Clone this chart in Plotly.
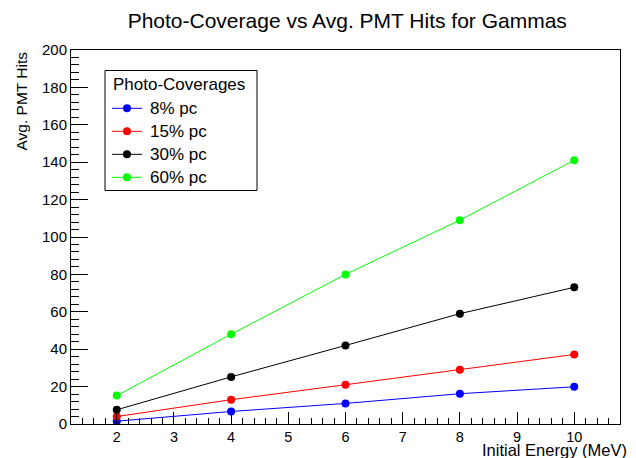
import plotly.graph_objects as go

energy = [2, 4, 6, 8, 10]
hits_8pc = [1.5, 6.7, 11.0, 16.2, 19.9]
hits_15pc = [4.0, 13.0, 21.0, 29.0, 37.2]
hits_30pc = [7.6, 25.2, 42.0, 59.0, 73.1]
hits_60pc = [15.2, 48.0, 80.0, 109.0, 141.1]

series_names = ["8% pc", "15% pc", "30% pc", "60% pc"]
series_values = [hits_8pc, hits_15pc, hits_30pc, hits_60pc]
series_colors = ["#0000ff", "#ff0000", "#000000", "#00ff00"]
legend_title = "Photo-Coverages"

FONT = "Liberation Sans, Arial, Helvetica, sans-serif"

fig = go.Figure()
for name, vals, col in zip(series_names, series_values, series_colors):
    fig.add_trace(go.Scatter(
        x=energy, y=vals, name=name, mode="lines+markers",
        line=dict(color=col, width=1),
        marker=dict(color=col, size=8, symbol="circle"),
        showlegend=False,
    ))

W, H = 636, 458
L, R, T, B = 71, 16, 50, 34
pw, ph = W - L - R, H - T - B


def px(x):
    return (x - L) / pw


def py(y):
    return (T + ph - y) / ph


fig.update_layout(
    width=W, height=H,
    margin=dict(l=L, r=R, t=T, b=B),
    paper_bgcolor="white", plot_bgcolor="white",
    font=dict(family=FONT, size=15, color="black"),
    title=dict(text="Photo-Coverage vs Avg. PMT Hits for Gammas",
               x=0.546, xref="container", xanchor="center",
               y=1 - 21 / H, yref="container", yanchor="middle",
               font=dict(size=21, family=FONT, color="black")),
    showlegend=False,
)

fig.update_xaxes(
    range=[1.2, 10.8], tickmode="linear", tick0=2, dtick=1,
    ticks="inside", ticklen=12, tickwidth=1, tickcolor="black",
    minor=dict(dtick=0.2, tick0=0, ticks="inside", ticklen=6, tickcolor="black", tickwidth=1),
    showgrid=False, zeroline=False,
    showline=True, linecolor="black", linewidth=1, mirror=True,
    tickfont=dict(size=14.5, family=FONT),
)
fig.update_yaxes(
    range=[0, 200], tickmode="linear", tick0=0, dtick=20,
    ticks="inside", ticklen=17, tickwidth=1, tickcolor="black",
    minor=dict(dtick=4, tick0=0, ticks="inside", ticklen=8, tickcolor="black", tickwidth=1),
    showgrid=False, zeroline=False,
    showline=True, linecolor="black", linewidth=1, mirror=True,
    tickfont=dict(size=15, family=FONT),
)

# axis titles (ROOT style: right / top aligned)
fig.add_annotation(text="Initial Energy (MeV)", xref="paper", yref="paper",
                   x=px(629), y=py(449.5), xanchor="right", yanchor="middle",
                   showarrow=False, font=dict(size=16.5, family=FONT))
fig.add_annotation(text="Avg. PMT Hits", xref="paper", yref="paper",
                   x=px(21), y=1, xanchor="center", yanchor="top",
                   textangle=-90, showarrow=False, font=dict(size=15.5, family=FONT))

# legend box (ROOT TLegend style)
fig.add_shape(type="rect", xref="paper", yref="paper",
              x0=px(105), x1=px(257), y0=py(190.5), y1=py(70.5),
              line=dict(color="black", width=1), fillcolor="white", layer="above")
fig.add_annotation(text=legend_title, xref="paper", yref="paper",
                   x=px(110.5), y=py(84), xanchor="left", yanchor="middle",
                   showarrow=False, font=dict(size=17, family=FONT))
for i, (name, col) in enumerate(zip(series_names, series_colors)):
    yy = 108.3 + i * 23.0
    fig.add_shape(type="line", xref="paper", yref="paper",
                  x0=px(112), x1=px(142), y0=py(yy), y1=py(yy),
                  line=dict(color=col, width=1), layer="above")
    fig.add_shape(type="circle", xref="paper", yref="paper",
                  xsizemode="pixel", ysizemode="pixel",
                  xanchor=px(127), yanchor=py(yy),
                  x0=-4, x1=4, y0=-4, y1=4,
                  line=dict(color=col, width=0), fillcolor=col, layer="above")
    fig.add_annotation(text=name, xref="paper", yref="paper",
                       x=px(147.5), y=py(yy), xanchor="left", yanchor="middle",
                       showarrow=False, font=dict(size=17, family=FONT))

fig.write_html("out.html", config={"displayModeBar": False},
               post_script="document.body.style.margin='0';")
